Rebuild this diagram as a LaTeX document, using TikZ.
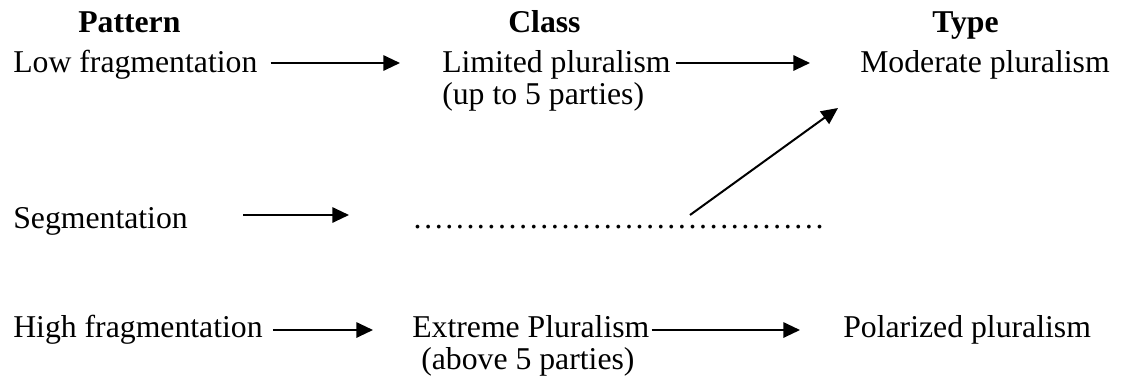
\documentclass[tikz,border=0pt]{standalone}
\usepackage{fontspec}
\setmainfont{Liberation Serif}
\usetikzlibrary{arrows.meta}
\begin{document}
\begin{tikzpicture}[x=0.75pt,y=-0.75pt,
  lbl/.style={inner sep=0pt,anchor=base west,font=\fontsize{23.8}{28}\selectfont},
  hdr/.style={lbl,font=\fontsize{23.8}{28}\selectfont\bfseries},
  arr/.style={line width=1.5pt,-{Triangle[length=12.5pt,width=11.5pt]}}]
\useasboundingbox (0,0) rectangle (1124,383);
% headers
\node[hdr] (hpat) at (78,32) {Pattern};
\node[hdr] (hcls) at (508,32) {Class};
\node[hdr] (htyp) at (932,32) {Type};
% row 1
\node[lbl] (low) at (13,72) {Low fragmentation};
\node[lbl] (lim) at (442,72) {Limited pluralism};
\node[lbl] (lim2) at (442,104) {(up to 5 parties)};
\node[lbl] (mod) at (860,72) {Moderate pluralism};
% row 2
\node[lbl] (seg) at (13,228) {Segmentation};
\node[lbl] (dots) at (412,228) {…………………………………};
% row 3
\node[lbl] (high) at (13,337) {High fragmentation};
\node[lbl] (ext) at (412,337) {Extreme Pluralism};
\node[lbl] (ext2) at (421,369) {(above 5 parties)};
\node[lbl] (pol) at (843,337) {Polarized pluralism};
% connectors
\draw[arr] ([xshift=9.75pt,yshift=6.75pt]low.base east) -- ([xshift=-31.5pt,yshift=6.75pt]lim.base west);
\draw[arr] ([xshift=3.75pt,yshift=6.75pt]lim.base east) -- ([xshift=-37.5pt,yshift=6.75pt]mod.base west);
\draw[arr] ([xshift=41.25pt,yshift=9.75pt]seg.base east) -- ([xshift=-47.25pt,yshift=9.75pt]dots.base west);
\coordinate (dstart) at ([shift={(208.5pt,9.75pt)}]dots.base west);
\coordinate (mend) at ([shift={(-16.5pt,-27pt)}]mod.base west);
\draw[arr] (dstart) -- (mend);
\draw[arr] ([xshift=7.5pt,yshift=5.25pt]high.base east) -- ([xshift=-29.25pt,yshift=5.25pt]ext.base west);
\draw[arr] ([xshift=1.5pt,yshift=5.25pt]ext.base east) -- ([xshift=-32.25pt,yshift=5.25pt]pol.base west);
\end{tikzpicture}
\end{document}
